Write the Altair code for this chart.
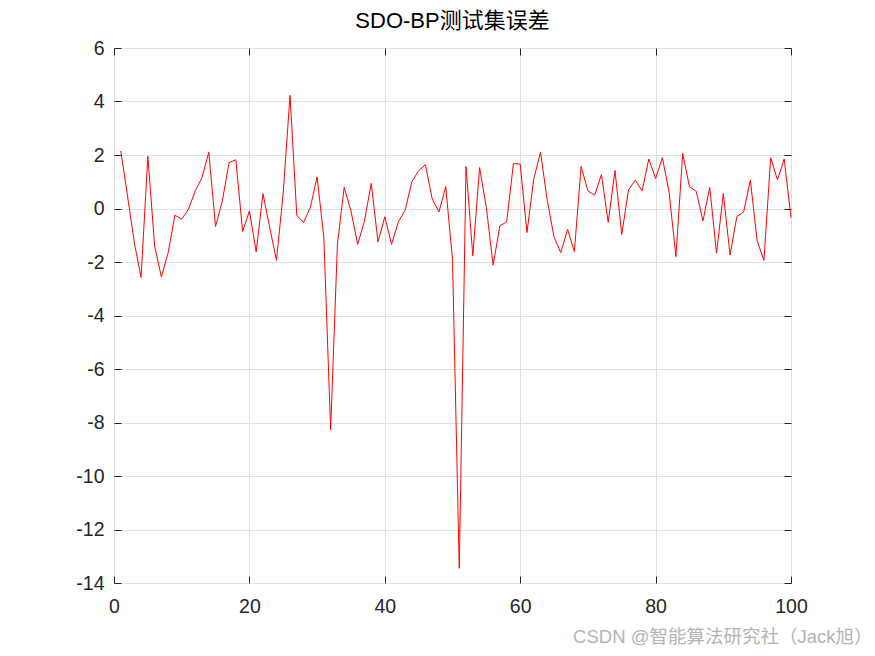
import altair as alt
import pandas as pd

sample_index = list(range(1, 101))
error_values = [
    2.15, 0.47, -1.27, -2.58, 1.95, -1.40, -2.56, -1.65, -0.25, -0.40,
    -0.03, 0.66, 1.16, 2.10, -0.67, 0.28, 1.72, 1.82, -0.86, -0.09,
    -1.62, 0.56, -0.71, -1.94, 0.60, 4.23, -0.25, -0.52, 0.04, 1.18,
    -1.09, -8.27, -1.34, 0.79, -0.09, -1.34, -0.46, 0.94, -1.25, -0.31,
    -1.34, -0.50, -0.06, 1.00, 1.41, 1.64, 0.36, -0.13, 0.82, -1.90,
    -13.45, 1.57, -1.77, 1.53, 0.04, -2.12, -0.65, -0.50, 1.68, 1.66,
    -0.90, 1.10, 2.10, 0.30, -1.07, -1.65, -0.78, -1.61, 1.57, 0.66,
    0.50, 1.27, -0.52, 1.42, -0.97, 0.70, 1.06, 0.66, 1.85, 1.12,
    1.90, 0.60, -1.80, 2.06, 0.82, 0.64, -0.46, 0.79, -1.67, 0.56,
    -1.74, -0.30, -0.13, 1.06, -1.21, -1.94, 1.90, 1.07, 1.85, -0.35,
]
x_ticks = [0, 20, 40, 60, 80, 100]
y_ticks = [6, 4, 2, 0, -2, -4, -6, -8, -10, -12, -14]
title_text = "SDO-BP测试集误差"
watermark = "CSDN @智能算法研究社（Jack旭）"

df = pd.DataFrame({"idx": sample_index, "err": error_values})

AX = "#262626"
FONT = "Liberation Sans"
MIXED = "Liberation Sans, Noto Sans CJK SC"
TICK = 7
LBL = 19.5
MINUS_FIX = "replace(datum.label, '\u2212', '-')"

xscale = alt.Scale(domain=[0, 100], nice=False, zero=False)
yscale = alt.Scale(domain=[-14, 6], nice=False, zero=False)

grid = alt.Chart(df).mark_line(opacity=0).encode(
    x=alt.X("idx:Q", scale=xscale, axis=alt.Axis(orient="bottom", values=x_ticks, grid=True,
             gridColor="#e0e0e0", gridWidth=1, domain=False, ticks=False, labels=False, title=None)),
    y=alt.Y("err:Q", scale=yscale, axis=alt.Axis(orient="left", values=y_ticks, grid=True,
             gridColor="#e0e0e0", gridWidth=1, domain=False, ticks=False, labels=False, title=None)),
)

line = alt.Chart(df).mark_line(color="#ff0000", strokeWidth=1).encode(
    x=alt.X("idx:Q", scale=xscale, axis=alt.Axis(
        orient="bottom", values=x_ticks, grid=False, domain=False, ticks=True, tickSize=TICK,
        tickColor=AX, tickWidth=1, offset=-TICK, labelPadding=14, labelFontSize=LBL,
        labelFlush=False, labelColor=AX, labelFont=FONT, labelExpr=MINUS_FIX, title=watermark,
        titleFont=MIXED, titleFontSize=18.5, titleFontWeight="normal",
        titleColor="#b4b4b4", titleAnchor="end", titleAlign="right",
        titleX=758, titleY=53 + TICK, titleBaseline="middle")),
    y=alt.Y("err:Q", scale=yscale, axis=alt.Axis(
        orient="left", values=y_ticks, grid=False, domain=False, ticks=True, tickSize=TICK,
        tickColor=AX, tickWidth=1, offset=-TICK, labelPadding=10, labelFontSize=LBL,
        labelFlush=False, labelColor=AX, labelFont=FONT, labelExpr=MINUS_FIX, title=None)),
)

mirror = alt.Chart(df).mark_line(opacity=0).encode(
    x=alt.X("idx:Q", scale=xscale, axis=alt.Axis(
        orient="top", values=x_ticks, grid=False, domain=False, ticks=True, tickSize=TICK,
        tickColor=AX, tickWidth=1, offset=-TICK, labels=False, title=None)),
    y=alt.Y("err:Q", scale=yscale, axis=alt.Axis(
        orient="right", values=y_ticks, grid=False, domain=False, ticks=True, tickSize=TICK,
        tickColor=AX, tickWidth=1, offset=-TICK, labels=False, title=None)),
)

chart = alt.layer(grid, line, mirror).resolve_axis(x="independent", y="independent").properties(
    width=677, height=535,
    background="white",
    title=alt.TitleParams(title_text, font=MIXED, fontSize=22, fontWeight="normal",
                          color="#000000", anchor="middle", offset=5),
    autosize=alt.AutoSizeParams(type="none"),
    padding={"left": 114, "top": 48, "right": 84, "bottom": 73},
).configure_view(stroke=AX, strokeWidth=1)

chart.save("out.html", embed_options={"renderer": "svg", "actions": False})
